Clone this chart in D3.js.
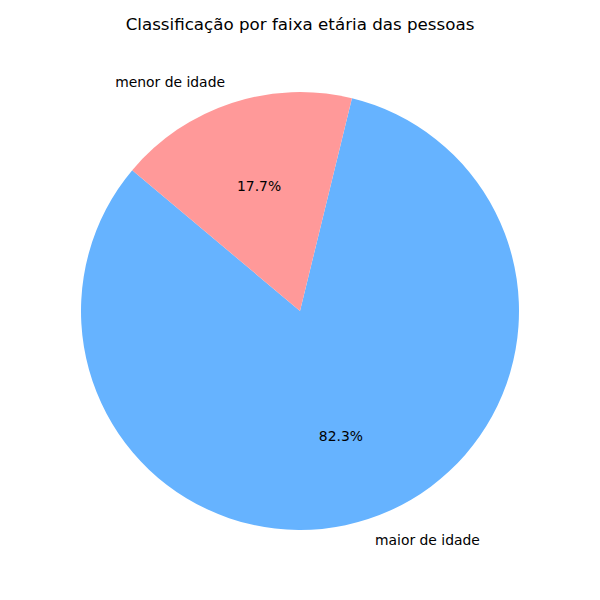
<!DOCTYPE html>
<html><head><meta charset="utf-8">
<script src="https://cdn.jsdelivr.net/npm/d3@7"></script>
<style>body{margin:0;background:#fff}text{font-family:"DejaVu Sans",sans-serif}</style>
</head><body>
<svg id="c" width="600" height="600"></svg>
<script>
const categories = ["maior de idade", "menor de idade"];
const values = [82.3, 17.7];
const colors = ["#66b3ff", "#ff9999"];
const title = "Classificação por faixa etária das pessoas";

const svg = d3.select("#c");
const cx = 300, cy = 311, r = 219;
const startDeg = 140;
// matplotlib: counterclockwise from startangle; d3: clockwise from 12 o'clock
const toD3 = deg => (90 - deg) * Math.PI / 180;
const total = d3.sum(values);
const pct = d3.scaleLinear().domain([0, total]).range([0, 360]);
let acc = startDeg;
const slices = values.map((v, i) => {
  const a0 = acc, a1 = acc + pct(v);
  acc = a1;
  return {i, v, a0, a1, mid: (a0 + a1) / 2};
});
const arc = d3.arc().innerRadius(0).outerRadius(r);
const g = svg.append("g").attr("transform", `translate(${cx},${cy})`);
g.selectAll("path").data(slices).join("path")
  .attr("d", d => arc({startAngle: toD3(d.a1), endAngle: toD3(d.a0)}))
  .attr("fill", d => colors[d.i]);
const rad = d => d.mid * Math.PI / 180;
g.selectAll("text.lbl").data(slices).join("text")
  .attr("class", "lbl")
  .attr("x", d => 1.1 * r * Math.cos(rad(d)))
  .attr("y", d => -1.1 * r * Math.sin(rad(d)))
  .attr("text-anchor", d => Math.cos(rad(d)) > 0 ? "start" : "end")
  .attr("dominant-baseline", "central")
  .attr("font-size", "13.9px")
  .text(d => categories[d.i]);
g.selectAll("text.pct").data(slices).join("text")
  .attr("class", "pct")
  .attr("x", d => 0.6 * r * Math.cos(rad(d)))
  .attr("y", d => -0.6 * r * Math.sin(rad(d)))
  .attr("text-anchor", "middle")
  .attr("dominant-baseline", "central")
  .attr("font-size", "13.9px")
  .text(d => (d.v / total * 100).toFixed(1) + "%");
svg.append("text").attr("x", 300).attr("y", 24)
  .attr("text-anchor", "middle").attr("dominant-baseline", "central")
  .attr("font-size", "16.7px").text(title);
</script>
</body></html>
